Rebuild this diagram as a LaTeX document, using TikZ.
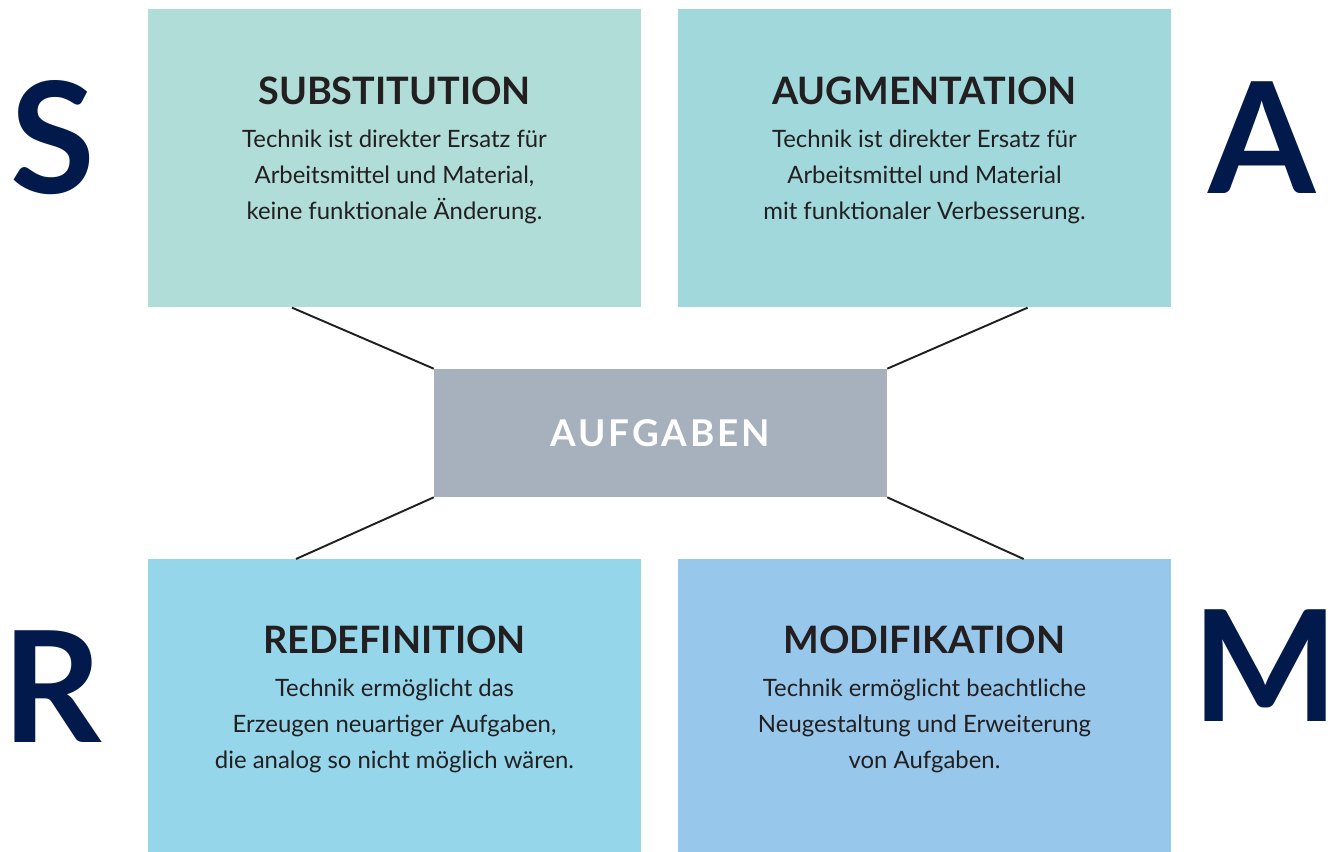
\documentclass[tikz,border=0pt]{standalone}
\usepackage{fontspec}
\setmainfont{Lato}
\usetikzlibrary{positioning}

\definecolor{substcol}{HTML}{B1DDD8}
\definecolor{augcol}{HTML}{A0D8DC}
\definecolor{modcol}{HTML}{97C7EA}
\definecolor{redefcol}{HTML}{96D6EA}
\definecolor{taskcol}{HTML}{A6B1BD}
\definecolor{navy}{HTML}{011A4B}
\definecolor{ink}{HTML}{231F20}

\begin{document}
\begin{tikzpicture}[x=0.02cm,y=-0.02cm]
    % Node styles
    \tikzset{
      level box/.style={rectangle,inner sep=0pt,minimum width=9.86cm,minimum height=5.96cm},
      task box/.style={rectangle,fill=taskcol,inner sep=0pt,minimum width=9.06cm,minimum height=2.56cm},
      level title/.style={font=\fontsize{21.5}{24}\selectfont\bfseries,text=ink},
      level text/.style={font=\fontsize{13.6}{20.3}\selectfont,text=ink,align=center},
      big letter/.style={font=\fontsize{88}{88}\selectfont\bfseries,text=navy},
      link/.style={draw=ink,line width=1.1pt}
    }
    \useasboundingbox (0,0) rectangle (1339,852);

    % --- The four SAMR boxes ---
    \node[level box, fill=substcol, anchor=north west] (subst) at (148,9) {};
    \node[level box, fill=augcol, anchor=north west] (aug) at (678,9) {};
    \node[level box, fill=redefcol, anchor=north west, minimum height=5.86cm] (redef) at (148,559) {};
    \node[level box, fill=modcol, anchor=north west, minimum height=5.86cm] (mod) at (678,559) {};

    % --- Centre ---
    \node[task box] (task) at (660.5,433) {\fontsize{21}{24}\selectfont\bfseries\color{white}\addfontfeature{LetterSpace=8}AUFGABEN};

    % Lines from the boxes to the centre
    \draw[link] ([xshift=2.88cm]subst.south west) -- (task.north west);
    \draw[link] ([xshift=-2.88cm]aug.south east) -- (task.north east);
    \draw[link] ([xshift=2.96cm]redef.north west) -- (task.south west);
    \draw[link] ([xshift=-2.96cm]mod.north east) -- (task.south east);

    % --- Titles and texts ---
    \node[level title] (subst title) at (394.5,91) {SUBSTITUTION};
    \node[level text, below=0.26cm of subst title] (subst text)
      {Technik ist direkter Ersatz für\\Arbeitsmittel und Material,\\keine funktionale Änderung.};

    \node[level title] (aug title) at (924.5,91) {AUGMENTATION};
    \node[level text, below=0.26cm of aug title] (aug text)
      {Technik ist direkter Ersatz für\\Arbeitsmittel und Material\\mit funktionaler Verbesserung.};

    \node[level title] (redef title) at (394.5,640) {REDEFINITION};
    \node[level text, below=0.26cm of redef title] (redef text)
      {Technik ermöglicht das\\Erzeugen neuartiger Aufgaben,\\die analog so nicht möglich wären.};

    \node[level title] (mod title) at (924.5,640) {MODIFIKATION};
    \node[level text, below=0.26cm of mod title] (mod text)
      {Technik ermöglicht beachtliche\\Neugestaltung und Erweiterung\\von Aufgaben.};

    % --- Letters ---
    \node[big letter] (S) at (53,138) {S};
    \node[big letter] (A) at (1262,138) {A};
    \node[big letter] (R) at (52,687) {R};
    \node[big letter] (M) at (1266,666) {M};
\end{tikzpicture}
\end{document}
